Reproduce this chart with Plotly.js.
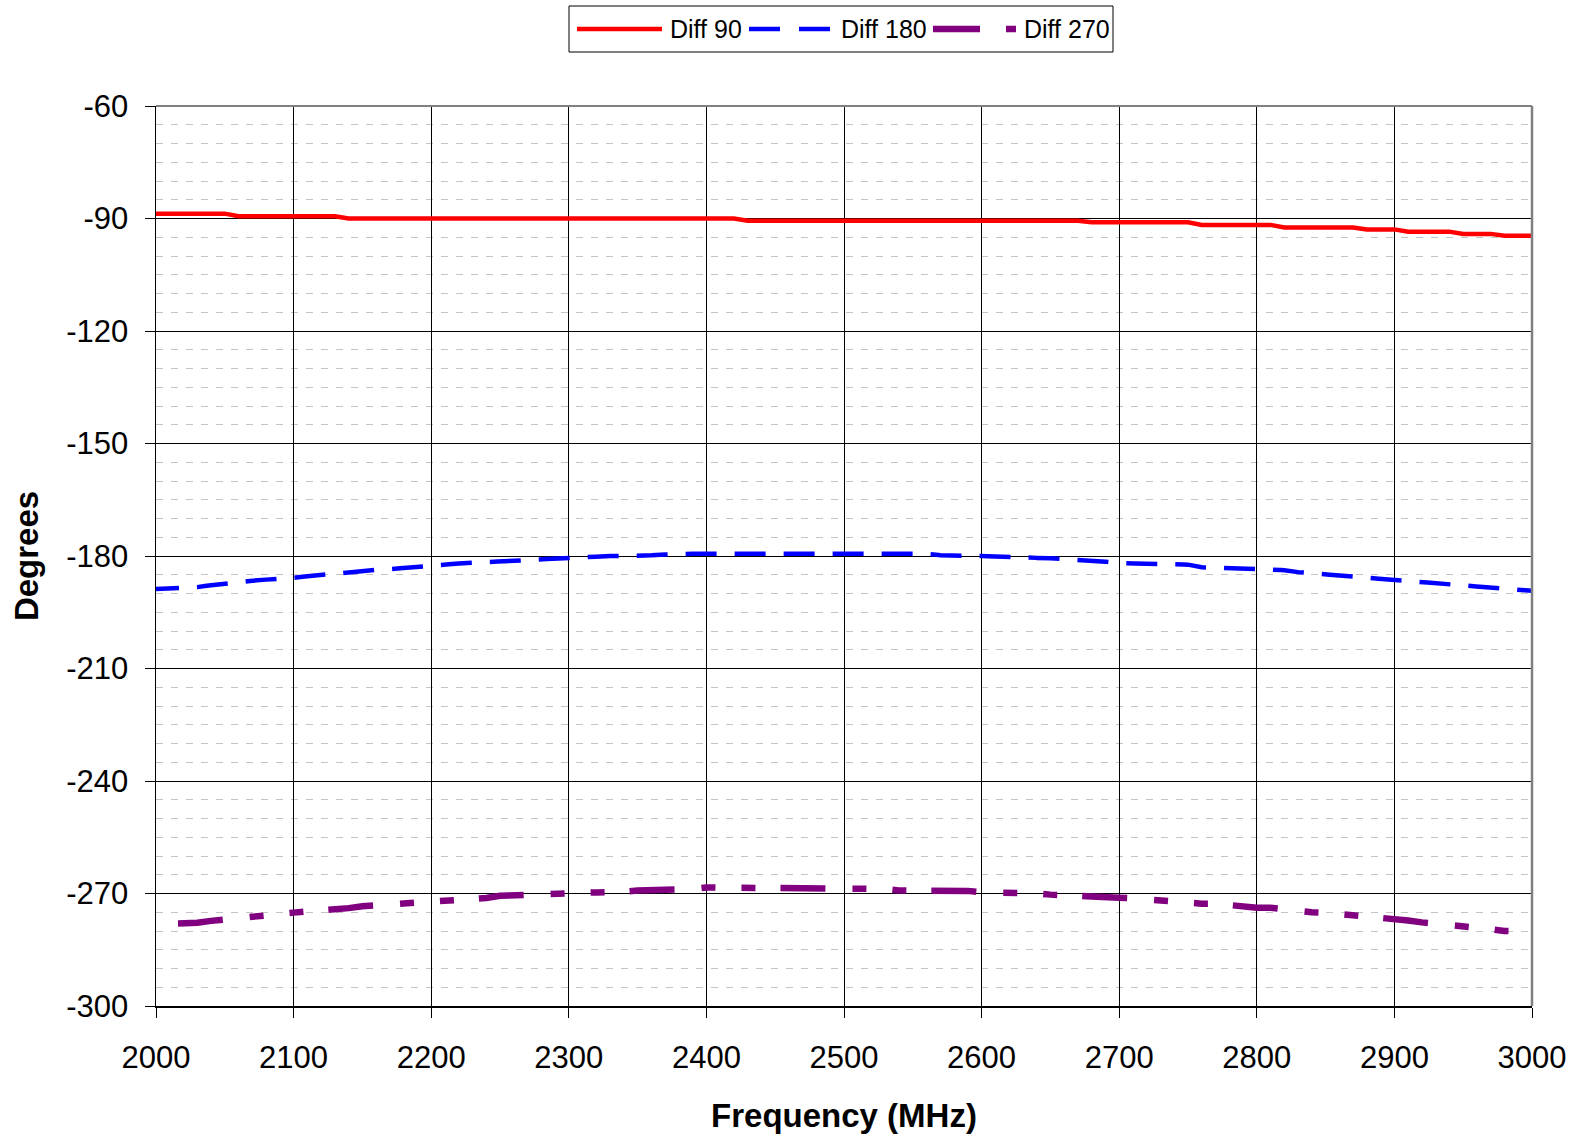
<!DOCTYPE html>
<html>
<head>
<meta charset="utf-8">
<script src="https://cdn.plot.ly/plotly-3.0.1.min.js"></script>
<style>html,body{margin:0;padding:0;background:#fff;}#chart{width:1579px;height:1135px;}</style>
</head>
<body>
<div id="chart"></div>
<script>
// ---- data ----
const freq = [2000,2010,2020,2030,2040,2050,2060,2070,2080,2090,
  2100,2110,2120,2130,2140,2150,2160,2170,2180,2190,
  2200,2210,2220,2230,2240,2250,2260,2270,2280,2290,
  2300,2310,2320,2330,2340,2350,2360,2370,2380,2390,
  2400,2410,2420,2430,2440,2450,2460,2470,2480,2490,
  2500,2510,2520,2530,2540,2550,2560,2570,2580,2590,
  2600,2610,2620,2630,2640,2650,2660,2670,2680,2690,
  2700,2710,2720,2730,2740,2750,2760,2770,2780,2790,
  2800,2810,2820,2830,2840,2850,2860,2870,2880,2890,
  2900,2910,2920,2930,2940,2950,2960,2970,2980,2990,3000];

const diff90 = [-88.7,-88.7,-88.7,-88.7,-88.7,-88.7,-89.4,-89.4,-89.4,-89.4,
  -89.4,-89.4,-89.4,-89.4,-90.0,-90.0,-90.0,-90.0,-90.0,-90.0,
  -90.0,-90.0,-90.0,-90.0,-90.0,-90.0,-90.0,-90.0,-90.0,-90.0,
  -90.0,-90.0,-90.0,-90.0,-90.0,-90.0,-90.0,-90.0,-90.0,-90.0,
  -90.0,-90.0,-90.0,-90.6,-90.6,-90.6,-90.6,-90.6,-90.6,-90.6,
  -90.6,-90.6,-90.6,-90.6,-90.6,-90.6,-90.6,-90.6,-90.6,-90.6,
  -90.6,-90.6,-90.6,-90.6,-90.6,-90.6,-90.6,-90.6,-91.0,-91.0,
  -91.0,-91.0,-91.0,-91.0,-91.0,-91.0,-91.7,-91.7,-91.7,-91.7,
  -91.7,-91.7,-92.4,-92.4,-92.4,-92.4,-92.4,-92.4,-92.9,-92.9,
  -92.9,-93.5,-93.5,-93.5,-93.5,-94.1,-94.1,-94.1,-94.6,-94.6,-94.6];

const diff180 = [-188.8,-188.7,-188.5,-188.3,-187.8,-187.3,-187.0,-186.6,-186.3,-186.1,
  -185.8,-185.4,-185.0,-184.7,-184.3,-184.0,-183.7,-183.5,-183.2,-182.8,
  -182.4,-182.2,-182.0,-181.8,-181.6,-181.4,-181.2,-181.0,-180.8,-180.6,
  -180.5,-180.4,-180.2,-180.0,-180.0,-180.0,-179.8,-179.6,-179.4,-179.4,
  -179.4,-179.4,-179.4,-179.4,-179.4,-179.4,-179.4,-179.4,-179.4,-179.4,
  -179.4,-179.4,-179.4,-179.4,-179.4,-179.4,-179.4,-179.8,-180.0,-180.0,
  -180.0,-180.2,-180.3,-180.5,-180.5,-180.6,-180.8,-181.0,-181.1,-181.5,
  -181.9,-182.0,-182.1,-182.2,-182.3,-182.3,-183.0,-183.2,-183.4,-183.5,
  -183.5,-183.6,-183.8,-184.3,-184.7,-185.0,-185.2,-185.5,-185.8,-186.0,
  -186.2,-186.5,-186.9,-187.3,-187.6,-187.8,-188.0,-188.4,-188.8,-189.1,-189.3];

const diff270 = [-278.2,-278.1,-278.0,-277.8,-277.3,-277.1,-276.6,-276.2,-276.0,-275.5,
  -275.1,-274.9,-274.5,-274.2,-273.9,-273.4,-273.2,-272.8,-272.5,-272.4,
  -272.1,-271.9,-271.6,-271.4,-271.2,-270.6,-270.4,-270.3,-270.2,-270.1,
  -270.0,-269.8,-269.7,-269.7,-269.5,-269.2,-269.2,-269.2,-269.2,-268.8,
  -268.4,-268.4,-268.4,-268.4,-268.4,-268.4,-268.4,-268.4,-268.4,-268.4,
  -268.4,-268.4,-268.4,-268.8,-269.2,-269.2,-269.2,-269.2,-269.2,-269.3,
  -269.7,-269.7,-269.7,-269.7,-270.0,-270.3,-270.3,-270.6,-270.8,-270.8,
  -271.1,-271.3,-271.6,-272.0,-272.1,-272.4,-272.7,-272.7,-273.1,-273.5,
  -273.8,-273.8,-274.3,-274.7,-275.0,-275.1,-275.4,-275.7,-276.0,-276.3,
  -276.7,-277.2,-277.7,-278.0,-278.2,-278.6,-279.0,-279.5,-280.0,-280.1,-280.2];

const seriesNames = ['Diff 90', 'Diff 180', 'Diff 270'];
const xTickVals = [2000,2100,2200,2300,2400,2500,2600,2700,2800,2900,3000];
const yTickVals = [-300,-270,-240,-210,-180,-150,-120,-90,-60];
const yTickText = ['-300','-270','-240','-210','-180','-150','-120','-90','-60'];

// ---- layout geometry ----
const W = 1579, H = 1135;
const M = {l:156, r:47, t:106, b:129};
const PW = W - M.l - M.r, PH = H - M.t - M.b;
const px = x => (x - M.l) / PW;
const py = y => (H - M.b - y) / PH;
const FONT = 'Liberation Sans, Arial, sans-serif';

const colors = ['#FF0000', '#0000FF', '#800080'];
const widths = [4.5, 4.5, 6.5];
const dashes = ['solid', '23px,18px,8px,0px', '0px,22px,45px,27px,14px,26px,14px,3px'];

const traces = [diff90, diff180, diff270].map((ys, i) => ({
  type: 'scatter', mode: 'lines', name: seriesNames[i],
  x: freq, y: ys, showlegend: false, hoverinfo: 'x+y',
  line: {color: colors[i], width: widths[i], dash: dashes[i]}
}));

// custom legend (Excel-style long samples)
const shapes = [
  {type:'rect', xref:'paper', yref:'paper', x0:px(569), x1:px(1113), y0:py(52), y1:py(6),
   line:{color:'#000', width:1}, fillcolor:'#fff', layer:'above'},
  {type:'line', xref:'paper', yref:'paper', x0:px(577), x1:px(662), y0:py(29), y1:py(29),
   line:{color:colors[0], width:widths[0]}, layer:'above'},
  {type:'line', xref:'paper', yref:'paper', x0:px(749), x1:px(830), y0:py(29), y1:py(29),
   line:{color:colors[1], width:widths[1], dash:'31px,19px'}, layer:'above'},
  {type:'line', xref:'paper', yref:'paper', x0:px(933), x1:px(1016), y0:py(29), y1:py(29),
   line:{color:colors[2], width:widths[2], dash:'47px,26px,14px,30px'}, layer:'above'},
  // plot-area border (gray top & right)
  {type:'line', xref:'paper', yref:'paper', x0:0, x1:1, y0:1, y1:1,
   line:{color:'#808080', width:2}, layer:'above'},
  {type:'line', xref:'paper', yref:'paper', x0:1, x1:1, y0:0, y1:1,
   line:{color:'#808080', width:2.5}, layer:'above'}
];
const legendX = [668, 839, 1022];
const annotations = seriesNames.map((n, i) => ({
  xref:'paper', yref:'paper', x:px(legendX[i]), y:py(29), xanchor:'left', yanchor:'middle',
  text:n, showarrow:false, font:{family:FONT, size:25, color:'#000'}
}));

const layout = {
  width: W, height: H,
  margin: M,
  paper_bgcolor: '#fff', plot_bgcolor: '#fff',
  showlegend: false,
  font: {family: FONT, color: '#000'},
  xaxis: {
    range: [2000, 3000], tickmode: 'array', tickvals: xTickVals,
    showgrid: true, gridcolor: '#000', gridwidth: 1,
    showline: true, linecolor: '#000', linewidth: 1.5,
    ticks: 'outside', ticklen: 10, tickcolor: '#000', tickwidth: 1,
    ticklabelstandoff: 13,
    tickfont: {family: FONT, size: 31, color: '#000'},
    zeroline: false, automargin: false,
    title: {text: 'Frequency (MHz)', font: {family: FONT, size: 33, color: '#000', weight: 'bold'}, standoff: 30}
  },
  yaxis: {
    range: [-300, -60], tickmode: 'array', tickvals: yTickVals, ticktext: yTickText,
    showgrid: true, gridcolor: '#000', gridwidth: 1,
    showline: true, linecolor: '#000', linewidth: 1.5,
    ticks: 'outside', ticklen: 10, tickcolor: '#000', tickwidth: 1,
    ticklabelstandoff: 10,
    tickfont: {family: FONT, size: 31, color: '#000'},
    zeroline: false, automargin: false,
    minor: {dtick: 5, tick0: -300, showgrid: true, gridcolor: '#c4c4c4', gridwidth: 1, griddash: '7px,8px', ticks: ''},
    title: {text: 'Degrees', font: {family: FONT, size: 33, color: '#000', weight: 'bold'}, standoff: 17}
  },
  shapes: shapes,
  annotations: annotations
};

Plotly.newPlot('chart', traces, layout, {staticPlot: true, displayModeBar: false});
</script>
</body>
</html>
